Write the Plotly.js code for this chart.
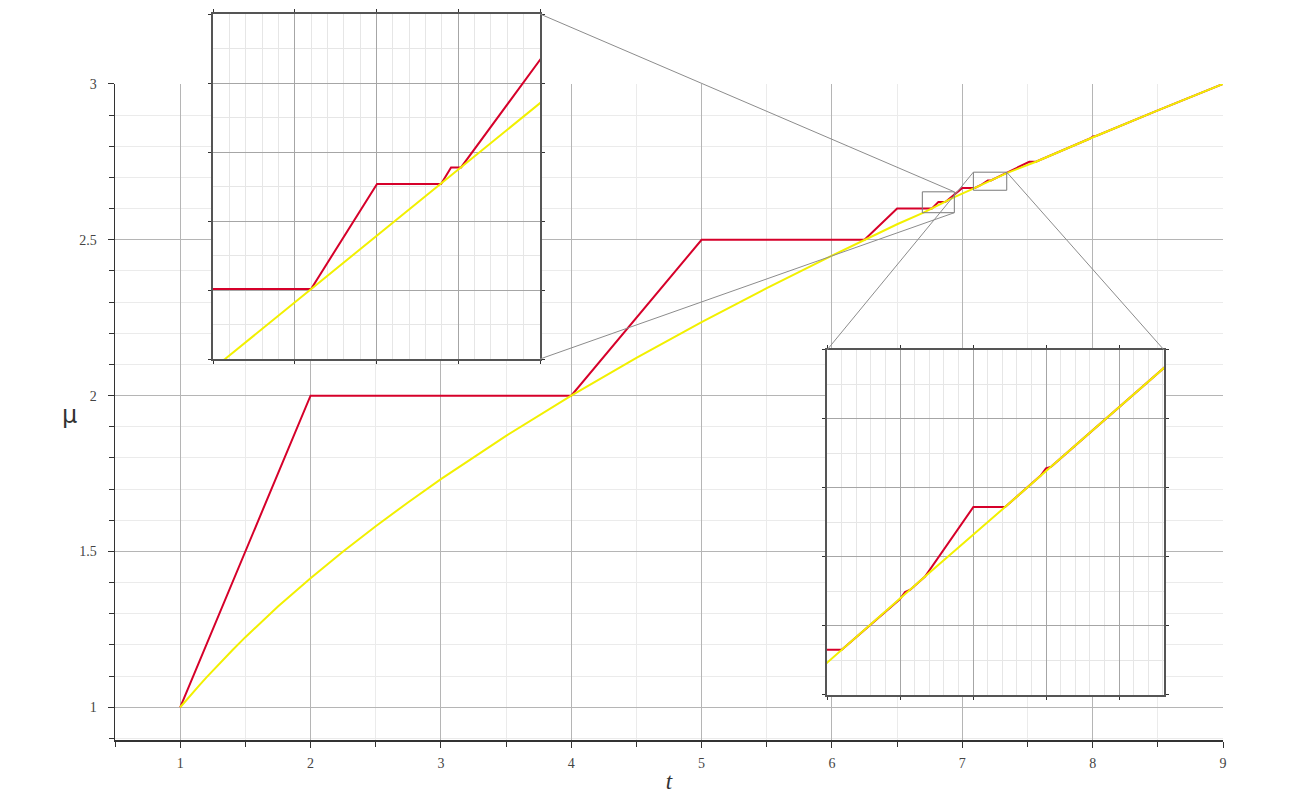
<!DOCTYPE html>
<html>
<head>
<meta charset="utf-8">
<script src="https://cdn.plot.ly/plotly-3.0.1.min.js"></script>
<style>html,body{margin:0;padding:0;background:#fff}</style>
</head>
<body>
<div id="myDiv" style="width:1300px;height:800px"></div>
<script>
// values
var tYellow = [1, 1.05, 1.1, 1.15, 1.2, 1.3, 1.4, 1.5, 1.75, 2, 2.25, 2.5, 2.75, 3, 3.5, 4, 4.5, 5, 5.5, 6, 6.25, 6.5,
    6.7025, 6.7671, 6.8797, 6.939, 7.0849, 7.0961, 7.1402, 7.1482, 7.1594, 7.2202,
    7.2473, 7.2553, 7.341, 7.565, 7.98, 8.026, 8.5, 9];
var muYellow = [1, 1.025, 1.049, 1.072, 1.095, 1.14, 1.183, 1.225, 1.323, 1.414, 1.5, 1.581, 1.658, 1.732, 1.871, 2, 2.121, 2.236, 2.345, 2.449, 2.5, 2.55,
    2.587, 2.6006, 2.6242, 2.6367, 2.6644, 2.6666, 2.6751, 2.6767, 2.6789, 2.6906,
    2.6959, 2.6974, 2.714, 2.7505, 2.825, 2.8331, 2.9155, 3];

var tRed = [1, 2, 4, 5, 6.25, 6.5, 6.7671, 6.8166, 6.8647, 6.8722, 6.8797, 7.0, 7.0961,
    7.1402, 7.1442, 7.1482, 7.1594, 7.1961, 7.2202, 7.2473, 7.2513, 7.2553, 7.341,
    7.514, 7.565, 7.98, 8.003, 8.026, 8.5, 9];
var muRed = [1, 2, 2, 2.5, 2.5, 2.6006, 2.6006, 2.621, 2.621, 2.6242, 2.6242, 2.6666, 2.6666,
    2.6751, 2.6763, 2.6767, 2.6789, 2.6906, 2.6906, 2.6959, 2.6971, 2.6974, 2.714,
    2.7505, 2.7505, 2.825, 2.8318, 2.8331, 2.9155, 3];

var xMain = [0.5, 9], yMain = [0.895, 3];
var zoom1X = [6.6935, 6.939], zoom1Y = [2.587, 2.654];
var zoom2X = [7.0849, 7.341], zoom2Y = [2.659, 2.717];

var mainYDom = [0, 0.9036];
var inset1XDom = [0.0885, 0.3836], inset1YDom = [0.5248, 1];
var inset2XDom = [0.6426, 0.9468], inset2YDom = [0.0620, 0.5372];

var redColor = '#d6002a', yellowColor = '#f2f000';
var serif = 'Liberation Serif, Times New Roman, serif';

function series(t, mu, color, xa, ya) {
    return {x: t, y: mu, type: 'scatter', mode: 'lines', xaxis: xa, yaxis: ya,
        line: {color: color, width: 2}, showlegend: false, hoverinfo: 'skip'};
}

var data = [
    series(tRed, muRed, redColor, 'x', 'y'),
    series(tYellow, muYellow, yellowColor, 'x', 'y'),
    series(tRed, muRed, redColor, 'x2', 'y2'),
    series(tYellow, muYellow, yellowColor, 'x2', 'y2'),
    series(tRed, muRed, redColor, 'x3', 'y3'),
    series(tYellow, muYellow, yellowColor, 'x3', 'y3')
];

function insetAxis(range, dom, anchor, dtick, nMinor) {
    return {
        domain: dom, anchor: anchor, range: range,
        tickmode: 'linear', tick0: range[0], dtick: dtick,
        showticklabels: false, ticks: 'outside', ticklen: 3, tickcolor: '#333',
        showline: true, mirror: 'ticks', linecolor: '#555', linewidth: 2,
        showgrid: true, gridcolor: '#a6a6a6', gridwidth: 1, zeroline: false,
        minor: {tick0: range[0], dtick: dtick / nMinor, showgrid: true, gridcolor: '#e6e6e6', ticks: ''}
    };
}

function px(t) { return (t - xMain[0]) / (xMain[1] - xMain[0]); }
function py(m) { return (m - yMain[0]) / (yMain[1] - yMain[0]) * (mainYDom[1] - mainYDom[0]) + mainYDom[0]; }

var connector = {color: '#8c8c8c', width: 1};
var boxLine = {color: '#7a7a7a', width: 1};

var layout = {
    width: 1300, height: 800,
    margin: {l: 115, r: 77, t: 14, b: 60, autoexpand: false},
    paper_bgcolor: '#fff', plot_bgcolor: '#fff',
    xaxis: {
        domain: [0, 1], anchor: 'y', range: xMain,
        tickmode: 'linear', tick0: 1, dtick: 1,
        ticks: 'outside', ticklen: 6, tickcolor: '#333', ticklabelstandoff: 4,
        showline: true, linecolor: '#333', linewidth: 1.5,
        showgrid: true, gridcolor: '#b5b5b5', zeroline: false,
        minor: {tick0: 0.5, dtick: 0.5, ticks: 'outside', ticklen: 5, tickcolor: '#333', showgrid: true, gridcolor: '#ebebeb'},
        tickfont: {family: serif, size: 14, color: '#444'},
        title: {text: '<i>t</i>', font: {family: serif, size: 23, color: '#333'}, standoff: 2}
    },
    yaxis: {
        domain: mainYDom, anchor: 'x', range: yMain,
        tickmode: 'linear', tick0: 1, dtick: 0.5,
        ticks: 'outside', ticklen: 6, tickcolor: '#333', ticklabelstandoff: 8,
        showline: true, linecolor: '#333', linewidth: 1.5,
        showgrid: true, gridcolor: '#b5b5b5', zeroline: false,
        minor: {tick0: 1, dtick: 0.1, ticks: 'outside', ticklen: 5, tickcolor: '#333', showgrid: true, gridcolor: '#ebebeb'},
        tickfont: {family: serif, size: 14, color: '#444'}
    },
    // zoom 1: 4 x steps, 5 y steps; zoom 2: x steps of fixed size that miss the right edge
    xaxis2: insetAxis(zoom1X, inset1XDom, 'y2', (zoom1X[1] - zoom1X[0]) / 4, 5),
    yaxis2: insetAxis(zoom1Y, inset1YDom, 'x2', (zoom1Y[1] - zoom1Y[0]) / 5, 2),
    xaxis3: insetAxis(zoom2X, inset2XDom, 'y3', 0.05547, 5),
    yaxis3: insetAxis(zoom2Y, inset2YDom, 'x3', (zoom2Y[1] - zoom2Y[0]) / 5, 2),
    annotations: [{
        xref: 'paper', yref: 'paper', x: -0.0496, y: 0.4477, showarrow: false,
        text: 'μ', font: {family: 'DejaVu Sans, sans-serif', size: 24, color: '#333'}
    }],
    shapes: [
        {type: 'rect', xref: 'x', yref: 'y', x0: zoom1X[0], x1: zoom1X[1], y0: zoom1Y[0], y1: zoom1Y[1], line: boxLine},
        {type: 'rect', xref: 'x', yref: 'y', x0: zoom2X[0], x1: zoom2X[1], y0: zoom2Y[0], y1: zoom2Y[1], line: boxLine},
        {type: 'line', xref: 'paper', yref: 'paper', x0: px(zoom1X[1]), y0: py(zoom1Y[1]), x1: inset1XDom[1], y1: inset1YDom[1], line: connector},
        {type: 'line', xref: 'paper', yref: 'paper', x0: px(zoom1X[1]), y0: py(zoom1Y[0]), x1: inset1XDom[1], y1: inset1YDom[0], line: connector},
        {type: 'line', xref: 'paper', yref: 'paper', x0: px(zoom2X[0]), y0: py(zoom2Y[1]), x1: inset2XDom[0], y1: inset2YDom[1], line: connector},
        {type: 'line', xref: 'paper', yref: 'paper', x0: px(zoom2X[1]), y0: py(zoom2Y[1]), x1: inset2XDom[1], y1: inset2YDom[1], line: connector}
    ]
};

Plotly.newPlot('myDiv', data, layout, {staticPlot: true});
</script>
</body>
</html>
